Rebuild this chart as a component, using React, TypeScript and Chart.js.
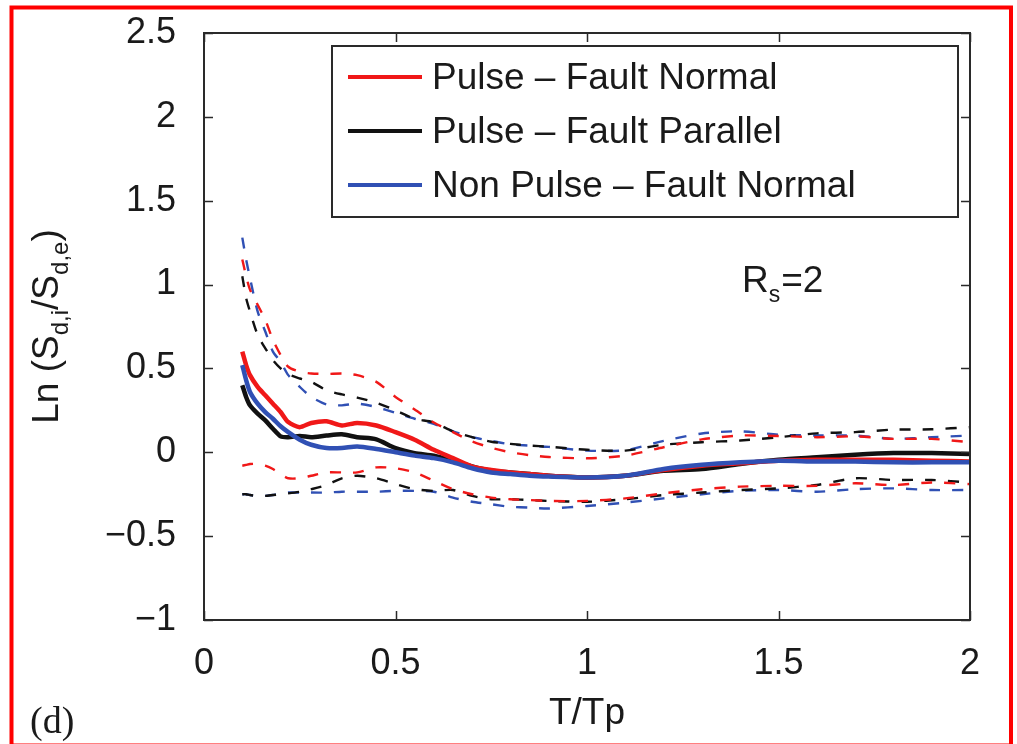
import React, { useEffect, useRef } from "react";
import { Chart, registerables } from "chart.js";

Chart.register(...registerables);

const periods = [0.10, 0.11, 0.12, 0.14, 0.16, 0.18, 0.20, 0.22, 0.25, 0.28, 0.32, 0.36, 0.40, 0.45, 0.50, 0.55, 0.60, 0.65, 0.70, 0.75, 0.80, 0.85, 0.90, 1.0, 1.1, 1.2, 1.3, 1.4, 1.5, 1.6, 1.7, 1.8, 1.9, 2.0];

const redMean = [0.60, 0.52, 0.46, 0.39, 0.34, 0.29, 0.24, 0.18, 0.15, 0.175, 0.185, 0.16, 0.175, 0.16, 0.12, 0.075, 0.015, -0.035, -0.085, -0.105, -0.12, -0.13, -0.14, -0.15, -0.14, -0.105, -0.08, -0.065, -0.05, -0.045, -0.045, -0.045, -0.05, -0.055];
const blackMean = [0.40, 0.33, 0.28, 0.23, 0.19, 0.14, 0.095, 0.09, 0.097, 0.09, 0.10, 0.107, 0.09, 0.077, 0.025, -0.005, -0.02, -0.05, -0.085, -0.11, -0.12, -0.13, -0.14, -0.15, -0.14, -0.11, -0.10, -0.07, -0.045, -0.03, -0.015, -0.005, -0.005, -0.01];
const blueMean = [0.52, 0.43, 0.36, 0.29, 0.24, 0.20, 0.155, 0.12, 0.075, 0.045, 0.025, 0.025, 0.035, 0.02, 0.0, -0.02, -0.035, -0.06, -0.095, -0.12, -0.13, -0.14, -0.145, -0.15, -0.14, -0.10, -0.075, -0.06, -0.05, -0.055, -0.055, -0.06, -0.06, -0.06];

const redUpper = [1.15, 1.05, 0.97, 0.88, 0.79, 0.67, 0.58, 0.51, 0.48, 0.47, 0.467, 0.47, 0.46, 0.42, 0.33, 0.255, 0.178, 0.12, 0.065, 0.027, 0.0, -0.017, -0.028, -0.036, -0.02, 0.03, 0.077, 0.1, 0.097, 0.09, 0.095, 0.08, 0.08, 0.06];
const blackUpper = [1.05, 0.92, 0.84, 0.70, 0.62, 0.55, 0.50, 0.465, 0.44, 0.42, 0.37, 0.345, 0.326, 0.295, 0.25, 0.2, 0.178, 0.125, 0.09, 0.063, 0.05, 0.04, 0.033, 0.015, 0.01, 0.045, 0.06, 0.07, 0.09, 0.113, 0.12, 0.135, 0.137, 0.15];
const blueUpper = [1.28, 1.15, 1.04, 0.84, 0.72, 0.60, 0.54, 0.46, 0.39, 0.33, 0.285, 0.28, 0.29, 0.27, 0.235, 0.2, 0.17, 0.125, 0.09, 0.068, 0.047, 0.04, 0.032, 0.01, 0.012, 0.068, 0.112, 0.125, 0.105, 0.10, 0.10, 0.08, 0.09, 0.10];

const redLower = [-0.08, -0.075, -0.07, -0.07, -0.08, -0.10, -0.13, -0.155, -0.155, -0.14, -0.12, -0.12, -0.12, -0.09, -0.095, -0.12, -0.17, -0.22, -0.25, -0.27, -0.28, -0.285, -0.29, -0.29, -0.275, -0.245, -0.22, -0.205, -0.2, -0.2, -0.185, -0.195, -0.18, -0.19];
const blackLower = [-0.25, -0.25, -0.255, -0.26, -0.26, -0.255, -0.25, -0.245, -0.235, -0.22, -0.195, -0.155, -0.14, -0.155, -0.19, -0.22, -0.23, -0.225, -0.26, -0.28, -0.28, -0.285, -0.29, -0.295, -0.28, -0.255, -0.24, -0.225, -0.215, -0.195, -0.155, -0.165, -0.165, -0.18];
const blueLower = [-0.25, -0.25, -0.255, -0.26, -0.26, -0.255, -0.245, -0.24, -0.24, -0.24, -0.24, -0.235, -0.235, -0.235, -0.23, -0.23, -0.235, -0.27, -0.295, -0.31, -0.325, -0.33, -0.335, -0.32, -0.30, -0.275, -0.25, -0.23, -0.225, -0.235, -0.22, -0.215, -0.225, -0.225];

const seriesLabels = ["Pulse \u2013 Fault Normal", "Pulse \u2013 Fault Parallel", "Non Pulse \u2013 Fault Normal"];
const seriesColors = ["#f01818", "#111111", "#3050b4"];

const xTicks = [0, 0.5, 1, 1.5, 2];
const yTicks = [-1, -0.5, 0, 0.5, 1, 1.5, 2, 2.5];

const axisTitleX = "T/Tp";
const panelLabel = "(d)";
const annotation = { main: "R", sub: "s", rest: "=2" };

const SANS = "'Liberation Sans', Arial, Helvetica, sans-serif";
const SERIF = "'Liberation Serif', 'Times New Roman', serif";

const pts = (ys: number[]) => periods.map((t, i) => ({ x: t, y: ys[i] }));

const fmt = (v: number) => (v < 0 ? "\u2212" + String(Math.abs(v)) : String(v));

const overlay = {
  id: "overlay",
  beforeDraw(chart: any) {
    const { ctx, width, height } = chart;
    ctx.save();
    ctx.fillStyle = "#ffffff";
    ctx.fillRect(0, 0, width, height);
    ctx.restore();
  },
  afterDraw(chart: any) {
    const { ctx, chartArea: a, scales } = chart;
    const xs = scales.x;
    const ys = scales.y;
    ctx.save();
    // axes box
    ctx.strokeStyle = "#2a2a2a";
    ctx.lineWidth = 2;
    ctx.strokeRect(a.left, a.top, a.right - a.left, a.bottom - a.top);
    ctx.beginPath();
    const tl = 9;
    xTicks.forEach((v) => {
      const p = Math.round(xs.getPixelForValue(v)) + 0.5;
      ctx.moveTo(p, a.bottom);
      ctx.lineTo(p, a.bottom - tl);
      ctx.moveTo(p, a.top);
      ctx.lineTo(p, a.top + tl);
    });
    yTicks.forEach((v) => {
      const p = Math.round(ys.getPixelForValue(v)) + 0.5;
      ctx.moveTo(a.left, p);
      ctx.lineTo(a.left + tl, p);
      ctx.moveTo(a.right, p);
      ctx.lineTo(a.right - tl, p);
    });
    ctx.lineWidth = 1.5;
    ctx.stroke();

    // legend
    const lx = 332, ly = 46, lw = 626, lh = 171;
    ctx.fillStyle = "#ffffff";
    ctx.fillRect(lx, ly, lw, lh);
    ctx.strokeStyle = "#2a2a2a";
    ctx.lineWidth = 2;
    ctx.strokeRect(lx, ly, lw, lh);
    const rows = [77, 131, 185];
    ctx.font = `37px ${SANS}`;
    ctx.textBaseline = "middle";
    ctx.textAlign = "left";
    seriesLabels.forEach((lab, i) => {
      ctx.strokeStyle = seriesColors[i];
      ctx.lineWidth = 4;
      ctx.beginPath();
      ctx.moveTo(348, rows[i]);
      ctx.lineTo(422, rows[i]);
      ctx.stroke();
      ctx.fillStyle = "#1a1a1a";
      ctx.fillText(lab, 432, rows[i] + 2);
    });

    // annotation R_s=2
    ctx.textBaseline = "alphabetic";
    ctx.fillStyle = "#1a1a1a";
    ctx.font = `37px ${SANS}`;
    ctx.fillText(annotation.main, 742, 292);
    const rW = ctx.measureText(annotation.main).width;
    ctx.font = `23px ${SANS}`;
    ctx.fillText(annotation.sub, 742 + rW, 302);
    const sW = ctx.measureText(annotation.sub).width;
    ctx.font = `37px ${SANS}`;
    ctx.fillText(annotation.rest, 742 + rW + sW + 1, 292);

    // x title
    ctx.textAlign = "center";
    ctx.font = `37px ${SANS}`;
    ctx.fillText(axisTitleX, (a.left + a.right) / 2, 724);

    // panel label
    ctx.textAlign = "left";
    ctx.font = `38px ${SERIF}`;
    ctx.fillText(panelLabel, 30, 733);

    // y title with subscripts
    const parts: [string, boolean][] = [
      ["Ln (S", false],
      ["d,i", true],
      ["/S", false],
      ["d,e", true],
      [")", false],
    ];
    const bigF = `37px ${SANS}`;
    const smallF = `24px ${SANS}`;
    let total = 0;
    parts.forEach(([t, sub]) => {
      ctx.font = sub ? smallF : bigF;
      total += ctx.measureText(t).width;
    });
    ctx.translate(58, (a.top + a.bottom) / 2);
    ctx.rotate(-Math.PI / 2);
    let cx = -total / 2;
    parts.forEach(([t, sub]) => {
      ctx.font = sub ? smallF : bigF;
      ctx.fillText(t, cx, sub ? 10 : 0);
      cx += ctx.measureText(t).width;
    });
    ctx.restore();

    // red frame
    ctx.save();
    ctx.strokeStyle = "#ff0000";
    ctx.lineWidth = 4;
    ctx.strokeRect(11.5, 7.5, 999.5, 738);
    ctx.restore();
  },
};

export default function App() {
  const ref = useRef<HTMLCanvasElement | null>(null);
  useEffect(() => {
    if (!ref.current) return;
    const solid = (label: string, ys: number[], color: string, order: number) => ({
      label,
      data: pts(ys),
      borderColor: color,
      backgroundColor: color,
      borderWidth: 4.5,
      pointRadius: 0,
      tension: 0.25,
      fill: false,
      order,
    });
    const dashed = (label: string, ys: number[], color: string) => ({
      label,
      data: pts(ys),
      borderColor: color,
      backgroundColor: color,
      borderWidth: 2.4,
      borderDash: [11, 12],
      pointRadius: 0,
      tension: 0.25,
      fill: false,
      order: 10,
    });
    const chart = new Chart(ref.current, {
      type: "line",
      data: {
        datasets: [
          solid(seriesLabels[2], blueMean, seriesColors[2], 0),
          solid(seriesLabels[0], redMean, seriesColors[0], 1),
          solid(seriesLabels[1], blackMean, seriesColors[1], 2),
          dashed("Pulse FN +1σ", redUpper, seriesColors[0]),
          dashed("Pulse FN −1σ", redLower, seriesColors[0]),
          dashed("Pulse FP +1σ", blackUpper, seriesColors[1]),
          dashed("Pulse FP −1σ", blackLower, seriesColors[1]),
          dashed("Non Pulse FN +1σ", blueUpper, seriesColors[2]),
          dashed("Non Pulse FN −1σ", blueLower, seriesColors[2]),
        ] as any,
      },
      options: {
        responsive: false,
        animation: false,
        devicePixelRatio: 1,
        layout: { padding: { left: 0, top: 33, right: 47, bottom: 0 } },
        plugins: { legend: { display: false }, tooltip: { enabled: false } },
        scales: {
          x: {
            type: "linear",
            min: 0,
            max: 2,
            grid: { display: false },
            border: { display: false },
            afterBuildTicks: (s: any) => {
              s.ticks = xTicks.map((v) => ({ value: v }));
            },
            afterFit: (s: any) => {
              s.height = 124;
              s.paddingLeft = 0;
              s.paddingRight = 0;
            },
            ticks: {
              padding: 14,
              color: "#1a1a1a",
              font: { family: SANS, size: 36 },
              maxRotation: 0,
              callback: (v: any) => fmt(Number(v)),
            },
          },
          y: {
            type: "linear",
            min: -1,
            max: 2.5,
            grid: { display: false },
            border: { display: false },
            afterBuildTicks: (s: any) => {
              s.ticks = yTicks.map((v) => ({ value: v }));
            },
            afterFit: (s: any) => {
              s.width = 204;
              s.paddingTop = 0;
              s.paddingBottom = 0;
            },
            ticks: {
              padding: 20,
              color: "#1a1a1a",
              font: { family: SANS, size: 36 },
              callback: (v: any) => fmt(Number(v)),
            },
          },
        },
      } as any,
      plugins: [overlay],
    });
    return () => chart.destroy();
  }, []);
  return (
    <div style={{ position: "absolute", left: 0, top: 0, width: 1017, height: 744 }}>
      <canvas ref={ref} width={1017} height={744} style={{ display: "block", width: 1017, height: 744 }} />
    </div>
  );
}
